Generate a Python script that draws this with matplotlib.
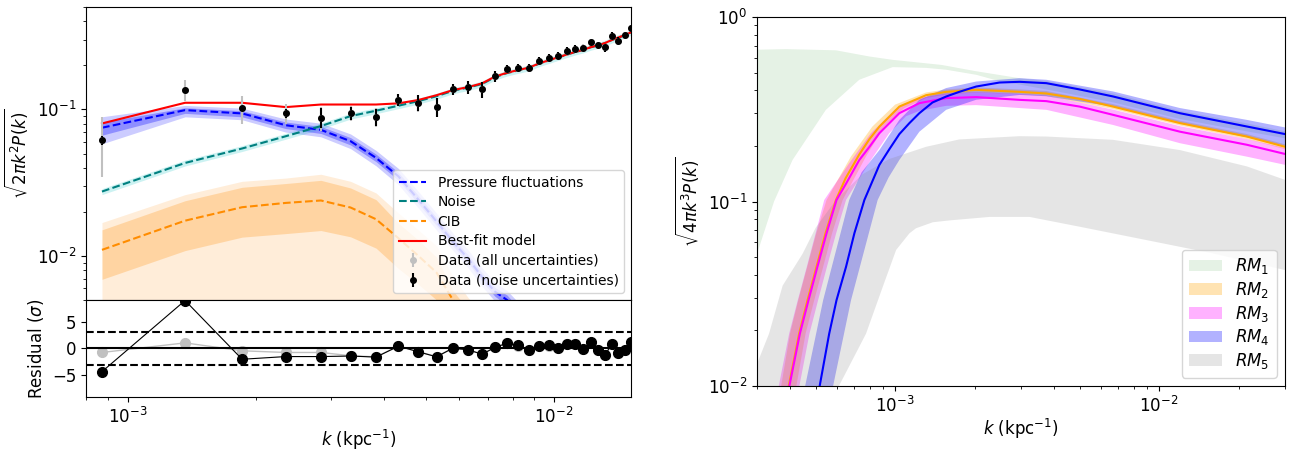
import numpy as np
import matplotlib
matplotlib.use("Agg")
import matplotlib.pyplot as plt

plt.rcParams["font.size"] = 12

# ---------------- left: power spectrum fit ----------------
k_bins = np.array([0.870, 1.363, 1.855, 2.348, 2.840, 3.333, 3.825, 4.318, 4.810, 5.303,
                   5.795, 6.288, 6.780, 7.273, 7.765, 8.258, 8.750, 9.243, 9.735, 10.228,
                   10.720, 11.213, 11.705, 12.198, 12.690, 13.183, 13.675, 14.168, 14.660,
                   15.153]) * 1e-3

data_ps = [0.0617, 0.1364, 0.1016, 0.0939, 0.0880, 0.0945, 0.0891, 0.1160, 0.1110, 0.1044,
           0.1370, 0.1415, 0.1370, 0.1680, 0.1890, 0.1930, 0.1920, 0.2140, 0.2245, 0.2307,
           0.2507, 0.2588, 0.2617, 0.2863, 0.2740, 0.2650, 0.3180, 0.2920, 0.3210, 0.3570]
err_noise = [0.0043, 0.0029, 0.0047, 0.0065, 0.0135, 0.0100, 0.0120, 0.0110, 0.0140, 0.0155,
             0.0117, 0.0147, 0.0168, 0.0145, 0.0120, 0.0120, 0.0125, 0.0130, 0.0135, 0.0140,
             0.0145, 0.0150, 0.0155, 0.0160, 0.0165, 0.0165, 0.0175, 0.0180, 0.0185, 0.0190]
err_all = [0.0270, 0.0225, 0.0220, 0.0145, 0.0165, 0.0115, 0.0130, 0.0113, 0.0143, 0.0158,
           0.0119, 0.0150, 0.0171, 0.0148, 0.0122, 0.0122, 0.0127, 0.0132, 0.0137, 0.0142,
           0.0148, 0.0153, 0.0158, 0.0163, 0.0168, 0.0168, 0.0178, 0.0183, 0.0188, 0.0193]

best_fit = [0.0802, 0.1110, 0.1110, 0.1037, 0.1080, 0.1080, 0.1080, 0.1100, 0.1160, 0.1250,
            0.1355, 0.1420, 0.1506, 0.1675, 0.1780, 0.1860, 0.1930, 0.2065, 0.2166, 0.2270,
            0.2370, 0.2470, 0.2548, 0.2660, 0.2740, 0.2840, 0.2980, 0.3100, 0.3210, 0.3360]

noise = [0.0275, 0.0431, 0.0541, 0.0656, 0.0770, 0.0900, 0.0980, 0.1060, 0.1140, 0.1230,
         0.1340, 0.1410, 0.1490, 0.1660, 0.1770, 0.1850, 0.1920, 0.2055, 0.2158, 0.2262,
         0.2363, 0.2463, 0.2542, 0.2654, 0.2735, 0.2835, 0.2975, 0.3096, 0.3206, 0.3356]
noise_lo = [0.0262, 0.0411, 0.0516, 0.0626, 0.0735, 0.0859, 0.0935, 0.1012, 0.1088, 0.1174,
            0.1279, 0.1346, 0.1422, 0.1585, 0.1690, 0.1766, 0.1833, 0.1962, 0.2060, 0.2159,
            0.2256, 0.2351, 0.2427, 0.2534, 0.2611, 0.2706, 0.2840, 0.2955, 0.3060, 0.3204]
noise_hi = [0.0288, 0.0451, 0.0566, 0.0687, 0.0807, 0.0943, 0.1027, 0.1110, 0.1194, 0.1289,
            0.1404, 0.1477, 0.1561, 0.1739, 0.1854, 0.1938, 0.2011, 0.2153, 0.2261, 0.2370,
            0.2475, 0.2580, 0.2663, 0.2780, 0.2865, 0.2970, 0.3117, 0.3243, 0.3358, 0.3516]

# pressure fluctuations (first 16 bins; the rest falls below the plotted range)
pressure = [0.0750, 0.0989, 0.0939, 0.0780, 0.0725, 0.0607, 0.0467, 0.0349, 0.0242, 0.0172,
            0.0125, 0.0096, 0.0072, 0.0057, 0.0050, 0.0041]
pressure_lo1 = [0.0667, 0.0940, 0.0890, 0.0740, 0.0685, 0.0572, 0.0440, 0.0328, 0.0227, 0.0161,
                0.0117, 0.0090, 0.0067, 0.0053, 0.0046, 0.0038]
pressure_hi1 = [0.0818, 0.1027, 0.0980, 0.0820, 0.0765, 0.0642, 0.0495, 0.0371, 0.0258, 0.0183,
                0.0133, 0.0102, 0.0077, 0.0061, 0.0054, 0.0044]
pressure_lo2 = [0.0582, 0.0890, 0.0850, 0.0700, 0.0650, 0.0540, 0.0412, 0.0306, 0.0212, 0.0150,
                0.0109, 0.0083, 0.0062, 0.0049, 0.0043, 0.0035]
pressure_hi2 = [0.0891, 0.1065, 0.1020, 0.0860, 0.0805, 0.0680, 0.0525, 0.0395, 0.0275, 0.0196,
                0.0143, 0.0110, 0.0083, 0.0066, 0.0058, 0.0048]

# CIB (first 13 bins)
cib = [0.0110, 0.0174, 0.0215, 0.0230, 0.0239, 0.0214, 0.0178, 0.0132, 0.0100, 0.0077,
       0.0050, 0.0037, 0.0028]
cib_lo1 = [0.00692, 0.01087, 0.01343, 0.0142, 0.0149, 0.0135, 0.0113, 0.0082, 0.0064, 0.0050,
           0.0036, 0.0027, 0.0020]
cib_hi1 = [0.01506, 0.0238, 0.0294, 0.0312, 0.0328, 0.0291, 0.0242, 0.0167, 0.0128, 0.0098,
           0.0058, 0.0043, 0.0033]
cib_lo2 = [0.002, 0.002, 0.002, 0.002, 0.002, 0.002, 0.002, 0.002, 0.002, 0.002,
           0.002, 0.002, 0.002]
cib_hi2 = [0.0169, 0.0262, 0.0323, 0.0340, 0.0361, 0.0323, 0.0269, 0.0196, 0.0150, 0.0117,
           0.0072, 0.0052, 0.0040]

resid_noise = [-4.30, 8.90, -2.00, -1.50, -1.50, -1.40, -1.60, 0.43, -0.62, -1.55,
               0.06, -0.25, -1.06, 0.19, 0.99, 0.56, -0.37, 0.43, 0.56, 0.12,
               0.75, 0.75, -0.06, 1.12, -0.31, -1.24, 0.87, -0.87, -0.19, 1.12]
resid_all = [-0.74, 1.04, -0.43, -0.74, -0.74, -1.35, -1.55, 0.42, -0.60, -1.50,
             0.06, -0.24, -1.03, 0.19, 0.97, 0.55, -0.36, 0.42, 0.55, 0.12,
             0.74, 0.74, -0.06, 1.10, -0.30, -1.22, 0.86, -0.86, -0.19, 1.10]

# ---------------- right: reconstructed spectra ----------------
rm1_up_k = [3.0e-4, 3.86e-4, 5.97e-4, 7.99e-4, 9.79e-4, 1.5e-3, 2.0e-3, 2.96e-3, 3.74e-3,
            6.69e-3, 1.2e-2, 2.15e-2, 3.0e-2]
rm1_up = [0.665, 0.670, 0.660, 0.611, 0.586, 0.550, 0.510, 0.466, 0.450,
          0.385, 0.310, 0.265, 0.240]
rm1_lo_k = [3.0e-4, 3.48e-4, 4.09e-4, 5.47e-4, 7.32e-4, 9.79e-4, 1.31e-3, 1.56e-3, 2.03e-3,
            2.4e-3, 3.74e-3, 6.69e-3, 1.2e-2, 2.15e-2, 3.0e-2]
rm1_lo = [0.052, 0.100, 0.168, 0.314, 0.457, 0.535, 0.530, 0.518, 0.486,
          0.455, 0.405, 0.345, 0.280, 0.240, 0.220]

rm2_k = [3.94e-4, 4.33e-4, 4.66e-4, 5.04e-4, 5.45e-4, 5.97e-4, 6.5e-4, 7.32e-4, 8.0e-4,
         8.72e-4, 1.038e-3, 1.311e-3, 1.561e-3, 2.029e-3, 2.962e-3, 3.74e-3, 5.0e-3,
         6.69e-3, 1.2e-2, 2.15e-2, 3.0e-2]
rm2_mid = [0.0097, 0.0192, 0.0292, 0.0443, 0.0672, 0.1019, 0.134, 0.180, 0.218,
           0.2547, 0.327, 0.377, 0.393, 0.403, 0.393, 0.385, 0.360,
           0.327, 0.266, 0.225, 0.198]
rm2_up_k = [3.68e-4, 4.0e-4, 4.3e-4, 4.65e-4, 5.03e-4, 5.5e-4, 6.8e-4, 8.2e-4, 1.0e-3,
            1.311e-3, 1.561e-3, 2.029e-3, 2.962e-3, 3.74e-3, 6.69e-3, 1.2e-2, 2.15e-2, 3.0e-2]
rm2_up = [0.0095, 0.0192, 0.0292, 0.0443, 0.0672, 0.1019, 0.175, 0.2547, 0.335,
          0.390, 0.405, 0.415, 0.405, 0.397, 0.337, 0.274, 0.232, 0.204]
rm2_lo_k = [4.2e-4, 4.58e-4, 4.94e-4, 5.34e-4, 5.77e-4, 6.33e-4, 7.75e-4, 9.1e-4, 1.08e-3,
            1.311e-3, 1.561e-3, 2.029e-3, 2.962e-3, 3.74e-3, 6.69e-3, 1.2e-2, 2.15e-2, 3.0e-2]
rm2_lo = [0.0095, 0.0192, 0.0292, 0.0443, 0.0672, 0.1019, 0.175, 0.2547, 0.320,
          0.364, 0.380, 0.390, 0.381, 0.373, 0.317, 0.258, 0.218, 0.192]

rm3_k = [3.96e-4, 4.36e-4, 4.70e-4, 5.08e-4, 5.50e-4, 6.00e-4, 6.52e-4, 7.32e-4, 8.0e-4,
         8.72e-4, 1.038e-3, 1.236e-3, 1.561e-3, 2.029e-3, 2.962e-3, 3.74e-3, 5.0e-3,
         6.69e-3, 1.2e-2, 2.15e-2, 3.0e-2]
rm3_mid = [0.0097, 0.01925, 0.0292, 0.0443, 0.0672, 0.1019, 0.125, 0.168, 0.198,
           0.2346, 0.3012, 0.3413, 0.3634, 0.368, 0.3556, 0.350, 0.327,
           0.295, 0.239, 0.203, 0.181]
rm3_up_k = [3.60e-4, 3.97e-4, 4.28e-4, 4.63e-4, 5.0e-4, 5.39e-4, 6.7e-4, 8.1e-4, 1.0e-3,
            1.236e-3, 1.561e-3, 2.029e-3, 2.962e-3, 3.74e-3, 6.69e-3, 1.2e-2, 2.15e-2, 3.0e-2]
rm3_up = [0.0095, 0.01925, 0.0292, 0.0443, 0.0672, 0.1019, 0.1612, 0.2346, 0.315,
          0.365, 0.385, 0.392, 0.383, 0.375, 0.315, 0.256, 0.218, 0.195]
rm3_lo_k = [4.31e-4, 4.74e-4, 5.11e-4, 5.52e-4, 5.98e-4, 6.52e-4, 7.95e-4, 9.5e-4, 1.1e-3,
            1.236e-3, 1.561e-3, 2.029e-3, 2.962e-3, 3.74e-3, 6.69e-3, 1.2e-2, 2.15e-2, 3.0e-2]
rm3_lo = [0.0095, 0.01925, 0.0292, 0.0443, 0.0672, 0.1019, 0.1612, 0.2346, 0.290,
          0.310, 0.330, 0.333, 0.321, 0.314, 0.260, 0.207, 0.175, 0.158]

rm4_k = [5.16e-4, 5.63e-4, 6.00e-4, 6.52e-4, 7.01e-4, 7.65e-4, 8.72e-4, 9.51e-4, 1.038e-3,
         1.133e-3, 1.236e-3, 1.385e-3, 1.561e-3, 1.75e-3, 2.029e-3, 2.487e-3, 2.962e-3,
         3.74e-3, 5.0e-3, 6.69e-3, 1.2e-2, 2.15e-2, 3.0e-2]
rm4_mid = [0.0097, 0.01925, 0.0292, 0.0443, 0.0672, 0.1019, 0.158, 0.192, 0.232,
           0.266, 0.3012, 0.344, 0.3707, 0.393, 0.420, 0.4415, 0.4454,
           0.438, 0.405, 0.371, 0.301, 0.255, 0.232]
rm4_up_k = [4.53e-4, 5.34e-4, 6.70e-4, 7.47e-4, 8.72e-4, 1.038e-3, 1.236e-3, 1.561e-3,
            2.029e-3, 2.962e-3, 3.74e-3, 6.69e-3, 1.2e-2, 2.15e-2, 3.0e-2]
rm4_up = [0.0095, 0.0292, 0.1019, 0.144, 0.190, 0.277, 0.356, 0.412,
          0.447, 0.466, 0.457, 0.395, 0.321, 0.277, 0.252]
rm4_lo_k = [5.78e-4, 6.81e-4, 8.59e-4, 9.45e-4, 1.038e-3, 1.236e-3, 1.561e-3, 2.029e-3,
            2.962e-3, 3.74e-3, 6.69e-3, 1.2e-2, 2.15e-2, 3.0e-2]
rm4_lo = [0.0095, 0.0292, 0.1019, 0.135, 0.168, 0.239, 0.314, 0.356,
          0.378, 0.372, 0.327, 0.265, 0.223, 0.200]

rm5_up_k = [3.0e-4, 3.33e-4, 3.75e-4, 4.46e-4, 5.0e-4, 5.97e-4, 7.5e-4, 9.51e-4, 1.311e-3,
            1.75e-3, 2.96e-3, 3.74e-3, 6.69e-3, 1.2e-2, 2.15e-2, 3.0e-2]
rm5_up = [0.0132, 0.0192, 0.035, 0.052, 0.072, 0.102, 0.140, 0.170, 0.198,
          0.217, 0.226, 0.225, 0.216, 0.190, 0.155, 0.131]
rm5_lo_k = [3.0e-4, 5.6e-4, 6.15e-4, 7.76e-4, 8.97e-4, 1.009e-3, 1.133e-3, 1.20e-3, 1.39e-3,
            1.61e-3, 2.28e-3, 3.23e-3, 5.0e-3, 8.95e-3, 1.6e-2, 3.0e-2]
rm5_lo = [0.005, 0.005, 0.0101, 0.0192, 0.0343, 0.0546, 0.0672, 0.0716, 0.0772,
          0.079, 0.0825, 0.0825, 0.073, 0.0618, 0.0523, 0.0425]

rm_labels = ["$RM_1$", "$RM_2$", "$RM_3$", "$RM_4$", "$RM_5$"]

# ---------------- figure ----------------
fig = plt.figure(figsize=(12.91, 4.5), dpi=100)
ax_top = fig.add_axes([0.0666, 0.3333, 0.4222, 0.6511])
ax_res = fig.add_axes([0.0666, 0.1178, 0.4222, 0.2156], sharex=ax_top)
ax_r = fig.add_axes([0.5864, 0.1422, 0.409, 0.82])

n_p = len(pressure)
n_c = len(cib)

ax_top.fill_between(k_bins[:n_p], pressure_lo2, pressure_hi2, color="blue", alpha=0.2, lw=0)
ax_top.fill_between(k_bins[:n_p], pressure_lo1, pressure_hi1, color="blue", alpha=0.3, lw=0)
ax_top.plot(k_bins[:n_p], pressure, "--", color="blue", lw=1.5, label="Pressure fluctuations")

ax_top.fill_between(k_bins, noise_lo, noise_hi, color="c", alpha=0.2, lw=0)
ax_top.plot(k_bins, noise, "--", color="teal", lw=1.5, label="Noise")

ax_top.fill_between(k_bins[:n_c], cib_lo2, cib_hi2, color="darkorange", alpha=0.15, lw=0)
ax_top.fill_between(k_bins[:n_c], cib_lo1, cib_hi1, color="darkorange", alpha=0.25, lw=0)
ax_top.plot(k_bins[:n_c], cib, "--", color="darkorange", lw=1.5, label="CIB")

ax_top.plot(k_bins, best_fit, "-", color="red", lw=1.5, label="Best-fit model")

ax_top.errorbar(k_bins, data_ps, yerr=err_all, fmt="o", color="silver", ms=4,
                elinewidth=1.5, label="Data (all uncertainties)")
ax_top.errorbar(k_bins, data_ps, yerr=err_noise, fmt="o", color="black", ms=4,
                elinewidth=1.5, label="Data (noise uncertainties)")

ax_top.set_xscale("log")
ax_top.set_yscale("log")
ax_top.set_xlim(7.98e-4, 1.517e-2)
ax_top.set_ylim(5e-3, 0.5)
ax_top.set_ylabel(r"$\sqrt{2\pi k^2 P(k)}$")
ax_top.tick_params(labelbottom=False)
ax_top.legend(loc="lower right", fontsize=10, labelspacing=0.4)

ax_res.plot(k_bins, resid_all, "o-", color="silver", ms=7, lw=1)
ax_res.plot(k_bins, resid_noise, "o-", color="black", ms=7, lw=0.8)
ax_res.axhline(0, color="black", lw=1.5)
ax_res.axhline(3, color="black", lw=1.5, ls="--")
ax_res.axhline(-3, color="black", lw=1.5, ls="--")
ax_res.set_ylim(-9, 9)
ax_res.set_yticks([-5, 0, 5])
ax_res.set_ylabel(r"Residual ($\sigma$)")
ax_res.set_xlabel(r"$k$ (kpc$^{-1}$)", labelpad=1)

# right panel: credible bands and medians
def band(ax, up_k, up, lo_k, lo, color, alpha, label):
    xs = list(up_k) + list(lo_k)[::-1]
    ys = list(up) + list(lo)[::-1]
    ax.fill(xs, ys, color=color, alpha=alpha, lw=0, label=label)

band(ax_r, rm1_up_k, rm1_up, rm1_lo_k, rm1_lo, "green", 0.1, rm_labels[0])
band(ax_r, rm2_up_k, rm2_up, rm2_lo_k, rm2_lo, "orange", 0.3, rm_labels[1])
ax_r.plot(rm2_k, rm2_mid, color="orange", lw=1.5)
band(ax_r, rm3_up_k, rm3_up, rm3_lo_k, rm3_lo, "magenta", 0.3, rm_labels[2])
ax_r.plot(rm3_k, rm3_mid, color="magenta", lw=1.5)
band(ax_r, rm4_up_k, rm4_up, rm4_lo_k, rm4_lo, "blue", 0.3, rm_labels[3])
ax_r.plot(rm4_k, rm4_mid, color="blue", lw=1.5)
band(ax_r, rm5_up_k, rm5_up, rm5_lo_k, rm5_lo, "gray", 0.2, rm_labels[4])

ax_r.set_xscale("log")
ax_r.set_yscale("log")
ax_r.set_xlim(3e-4, 3e-2)
ax_r.set_ylim(1e-2, 1)
ax_r.set_xlabel(r"$k$ (kpc$^{-1}$)", labelpad=1)
ax_r.set_ylabel(r"$\sqrt{4\pi k^3 P(k)}$")
ax_r.legend(loc="lower right", labelspacing=0.22)

fig.savefig("out.png", dpi=100)
